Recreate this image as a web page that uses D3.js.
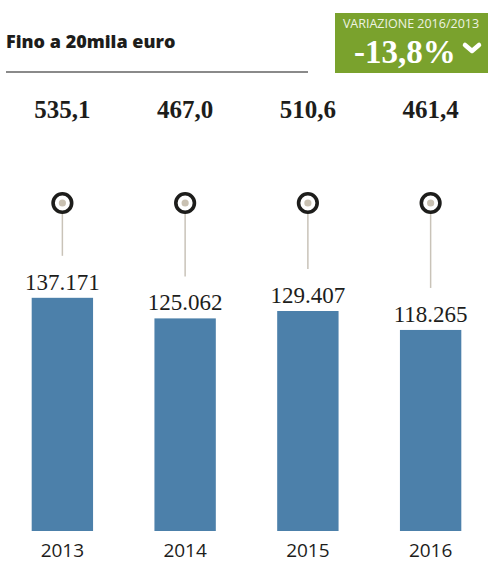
<!DOCTYPE html>
<html lang="it">
<head>
    <meta charset="UTF-8">
    <title>Fino a 20mila euro</title>
    <style>
        body {
            margin: 0;
            background: #fff;
        }
        .title {
            font-family: "Open Sans", sans-serif;
            font-weight: 800;
            font-size: 18px;
            fill: #1d1d1b;
        }
        .top-val {
            font-family: "Liberation Serif", serif;
            font-weight: 700;
            font-size: 25px;
            fill: #1d1d1b;
        }
        .bar-val {
            font-family: "Liberation Serif", serif;
            font-size: 23px;
            fill: #1d1d1b;
        }
        .year {
            font-family: "Open Sans", sans-serif;
            font-size: 19px;
            fill: #1d1d1b;
        }
        .bar { fill: #4c80aa; }
        .stem { stroke: #c9c3b8; stroke-width: 1.5px; }
    </style>
</head>
<body>
    <svg id="chart" width="492" height="562"></svg>
    <script src="https://d3js.org/d3.v7.min.js"></script>
    <script>
        // data
        const years = ["2013", "2014", "2015", "2016"];
        const counts = [137.171, 125.062, 129.407, 118.265];
        const amounts = ["535,1", "467,0", "510,6", "461,4"];
        const countLabels = ["137.171", "125.062", "129.407", "118.265"];
        const variationLabel = "VARIAZIONE 2016/2013";
        const variation = "-13,8%";

        const svg = d3.select("#chart");

        const x = d3.scaleBand()
            .domain(years)
            .range([1, 492])
            .paddingInner(0.5)
            .paddingOuter(0.25);

        const y = d3.scaleLinear()
            .domain([0, 150])
            .range([531, 276]);

        // header
        svg.append("text")
            .attr("class", "title")
            .attr("x", 6)
            .attr("y", 48)
            .text("Fino a 20mila euro");

        svg.append("line")
            .attr("x1", 6).attr("x2", 308)
            .attr("y1", 72).attr("y2", 72)
            .attr("stroke", "#8a8a8a")
            .attr("stroke-width", 2);

        // variation box
        const box = svg.append("g").attr("transform", "translate(335,13)");
        box.append("rect")
            .attr("width", 153)
            .attr("height", 60)
            .attr("fill", "#7aa22d");
        box.append("text")
            .attr("x", 76)
            .attr("y", 15)
            .attr("text-anchor", "middle")
            .style("font-family", "'Open Sans', sans-serif")
            .style("font-size", "12.5px")
            .attr("fill", "#eef3e3")
            .text(variationLabel);
        box.append("text")
            .attr("x", 19)
            .attr("y", 50)
            .style("font-family", "'Liberation Serif', serif")
            .style("font-weight", "700")
            .style("font-size", "33px")
            .attr("fill", "#fff")
            .text(variation);
        box.append("path")
            .attr("d", "M130,32 L137,38 L144,32")
            .attr("fill", "none")
            .attr("stroke", "#fff")
            .attr("stroke-width", 4.5)
            .attr("stroke-linecap", "round")
            .attr("stroke-linejoin", "round");

        const cx = d => x(d) + x.bandwidth() / 2;

        // amounts on top
        svg.selectAll(".top-val")
            .data(years)
            .enter()
            .append("text")
            .attr("class", "top-val")
            .attr("x", cx)
            .attr("y", 118)
            .attr("text-anchor", "middle")
            .text((d, i) => amounts[i]);

        // stems with pins
        svg.selectAll(".stem")
            .data(years)
            .enter()
            .append("line")
            .attr("class", "stem")
            .attr("x1", cx).attr("x2", cx)
            .attr("y1", 203)
            .attr("y2", (d, i) => y(counts[i]) - 42);

        const pin = svg.selectAll(".pin")
            .data(years)
            .enter()
            .append("g")
            .attr("class", "pin")
            .attr("transform", d => `translate(${cx(d)},203)`);
        pin.append("circle")
            .attr("r", 9.3)
            .attr("fill", "#fff")
            .attr("stroke", "#1d1d1b")
            .attr("stroke-width", 3.6);
        pin.append("circle")
            .attr("r", 3.6)
            .attr("fill", "#c9c1b2");

        // bars
        svg.selectAll(".bar")
            .data(years)
            .enter()
            .append("rect")
            .attr("class", "bar")
            .attr("x", d => x(d))
            .attr("width", x.bandwidth())
            .attr("y", (d, i) => y(counts[i]))
            .attr("height", (d, i) => y(0) - y(counts[i]));

        svg.selectAll(".bar-val")
            .data(years)
            .enter()
            .append("text")
            .attr("class", "bar-val")
            .attr("x", cx)
            .attr("y", (d, i) => y(counts[i]) - 8)
            .attr("text-anchor", "middle")
            .text((d, i) => countLabels[i]);

        svg.selectAll(".year")
            .data(years)
            .enter()
            .append("text")
            .attr("class", "year")
            .attr("x", cx)
            .attr("y", 557)
            .attr("text-anchor", "middle")
            .text(d => d);
    </script>
</body>
</html>
